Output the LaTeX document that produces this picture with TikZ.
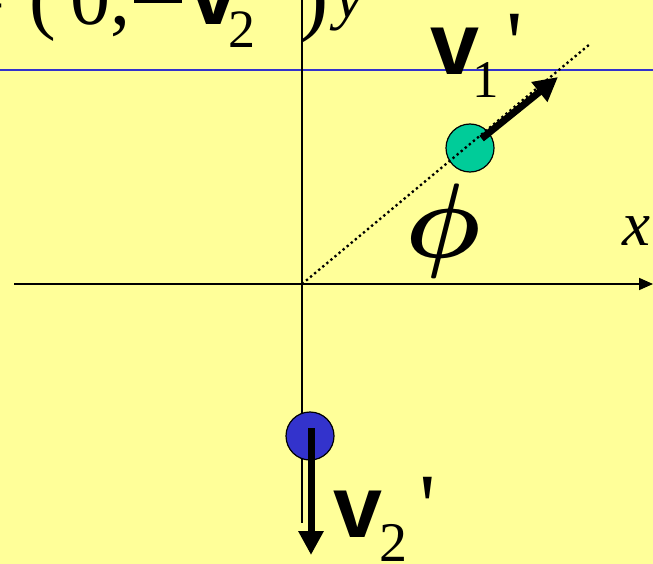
\documentclass[tikz,border=0pt]{standalone}
\usepackage{graphicx}
\usepackage{bm}
\usepackage{fontspec}
\setmainfont{Liberation Serif}[Ligatures=TeXOff]
\newfontfamily\velfont{Liberation Sans}
\usetikzlibrary{arrows.meta,calc}
\definecolor{paper}{HTML}{FFFF99}
\definecolor{ballgreen}{HTML}{00CC99}
\definecolor{ballblue}{HTML}{3333CC}

\begin{document}
\begin{tikzpicture}[x=1pt, y=-1pt,
    ball/.style={circle, draw=black, line width=1.2pt, minimum size=48pt, inner sep=0pt},
    vel/.style={line width=7pt, -{Triangle[length=24pt, width=24pt]}},
    lab/.style={anchor=base west, inner sep=0pt}]
  \useasboundingbox (0,0) rectangle (653,564);
  \clip (0,0) rectangle (653,564);
  \fill[paper] (0,0) rectangle (653,564);
  \coordinate (O) at (302,284);
  \coordinate (xend) at (653,284);
  \coordinate (xstart) at (14,284);
  \coordinate (ytop) at (302,0);
  \coordinate (ybot) at (302,523);
  \coordinate (dirend) at (590,44);
  \coordinate (v1tip) at (558,77);
  \coordinate (v2tip) at (311,555);
  % blue level line
  \draw[ballblue, line width=2pt] (0,70) -- (653,70);
  % axes
  \draw[line width=1.7pt, -{Triangle[length=14pt, width=12pt]}] (xstart) -- (xend);
  \draw[line width=1.5pt] (ytop) -- (ybot);
  % the two balls after the collision
  \node[ball, fill=ballblue] (b2) at (310,436) {};
  \node[ball, fill=ballgreen] (b1) at (470,148) {};
  \draw[line width=2.3pt, dash pattern=on 2.3pt off 3pt] (O) -- (dirend);
  % velocities
  \draw[vel] ($(b1.center)!15pt!(v1tip)$) -- (v1tip);
  \draw[vel] ($(b2.center)+(1,-8)$) -- (v2tip);
  % labels
  \node[lab] (v1lab) at (430,75) {\fontsize{88}{88}\selectfont\velfont\bfseries v\hspace{-7pt}\raisebox{-23pt}{\normalfont\fontsize{53}{53}\selectfont 1}\hspace{8pt}\normalfont\fontsize{92}{92}\selectfont '};
  \node[lab] (v2lab) at (333,537) {\fontsize{88}{88}\selectfont\velfont\bfseries v\hspace{-3pt}\raisebox{-24pt}{\normalfont\fontsize{56}{56}\selectfont 2}\hspace{12pt}\normalfont\fontsize{92}{92}\selectfont '};
  \node (philab) at (443,231) {\scalebox{10.6}{$\bm{\phi}$}};
  \node[lab] (xlab) at (622,245) {\fontsize{63}{63}\selectfont\itshape x};
  \node[lab] (ylab) at (335,18) {\fontsize{63}{63}\selectfont\itshape y};
  \node[lab] (eqlab) at (-40,25) {\fontsize{80}{80}\selectfont =\hspace{24pt}(\hspace{15pt}0,\hspace{3pt}\rule[22pt]{48pt}{6pt}\hspace{8pt}\velfont\bfseries\fontsize{88}{88}\selectfont v\hspace{-10pt}\raisebox{-23pt}{\normalfont\fontsize{54}{54}\selectfont 2}\hspace{12pt}\normalfont '\hspace{16pt})};
\end{tikzpicture}
\end{document}
